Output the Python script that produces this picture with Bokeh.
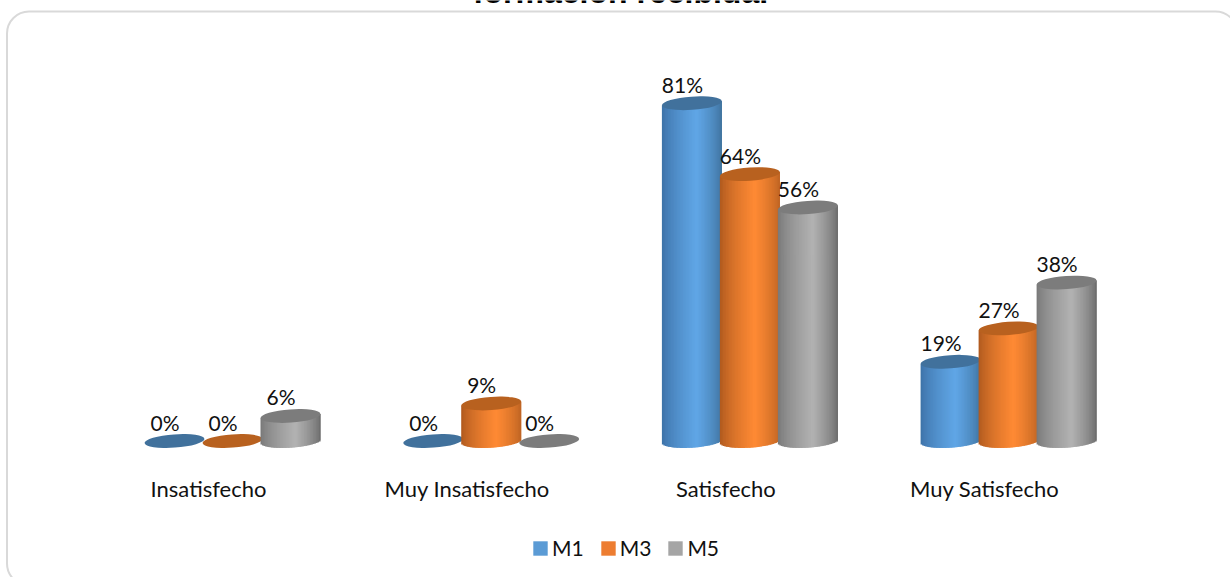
from math import sqrt, radians
from bokeh.plotting import figure
from bokeh.models import Range1d, BoxAnnotation, Legend, LegendItem
from bokeh.core.properties import value
from bokeh.embed import file_html
from bokeh.resources import INLINE

title_text = "formación recibida."
categories = ["Insatisfecho", "Muy Insatisfecho", "Satisfecho", "Muy Satisfecho"]
series_names = ["M1", "M3", "M5"]
m1 = [0, 0, 81, 19]
m3 = [0, 9, 64, 27]
m5 = [6, 0, 56, 38]
series = [m1, m3, m5]

legend_colors = ["#5B9BD5", "#ED7D31", "#A5A5A5"]
top_colors = ["#41719C", "#B8611F", "#7C7C7C"]
edge_l = [(60, 112, 165), (172, 88, 30), (118, 118, 118)]
peak = [(96, 166, 230), (255, 138, 52), (178, 178, 178)]
edge_r = [(62, 112, 155), (186, 98, 34), (104, 104, 104)]

W, H = 1230, 577
px_x = 258.7   # px per category
px_y = 4.17    # px per percent
x0_px, y0_px = 232, 440.5

p = figure(width=W, height=H, output_backend="svg", toolbar_location=None,
           x_range=Range1d(-x0_px / px_x, (W - x0_px) / px_x),
           y_range=Range1d(-(H - y0_px) / px_y, y0_px / px_y),
           min_border=0, outline_line_color=None,
           styles={"position": "absolute", "left": "0px", "top": "0px"})
p.axis.visible = False
p.grid.visible = False
p.background_fill_color = "white"

p.add_layout(BoxAnnotation(left=6.5, right=1237, top=H - 11, bottom=-8,
                           left_units="screen", right_units="screen",
                           top_units="screen", bottom_units="screen",
                           fill_color=None, line_color="#D9D9D9", line_alpha=1, line_width=2,
                           border_radius=22, level="underlay"))

bar_step = 58 / px_x
bar_w = 60 / px_x
tilt = 2.1 / px_y        # rise of the ellipse axis at the edge, data units
semi_h = 6.6 / px_y      # semi-minor axis, data units
n_strips = 40

def mix(a, b, t):
    return tuple(a[i] + (b[i] - a[i]) * t for i in range(3))

def shade(s, u):
    # u in 0..1 across the cylinder: dark edges, bright band at about 58 %
    k = 0.58
    if u < k:
        c = mix(edge_l[s], peak[s], (u / k) ** 0.7)
    else:
        c = mix(edge_r[s], peak[s], ((1 - u) / (1 - k)) ** 0.7)
    return "#%02x%02x%02x" % tuple(int(round(v)) for v in c)

for g in range(len(categories)):
    for s, vals in enumerate(series):
        v = vals[g]
        cx = g + (s - 1) * bar_step
        if v > 0:
            L, R, T, B, C = [], [], [], [], []
            dw = bar_w / n_strips
            for k in range(n_strips):
                u = (k + 0.5) / n_strips
                t = 2 * u - 1
                L.append(cx - bar_w / 2 + k * dw)
                R.append(cx - bar_w / 2 + min(k + 2, n_strips) * dw)
                T.append(v + tilt * t)
                B.append(tilt * t - semi_h * sqrt(max(0, 1 - t * t)))
                C.append(shade(s, u))
            p.quad(left=L, right=R, top=T, bottom=B, fill_color=C, line_color=None)
        p.ellipse(x=[cx], y=[v], width=bar_w, height=2 * semi_h, angle=radians(4),
                  fill_color=top_colors[s], line_color=None)

for g in range(len(categories)):
    for s, vals in enumerate(series):
        p.text(x=[g + (s - 1) * bar_step], y=[vals[g]], text=[f"{vals[g]}%"],
               x_offset=-9.5, y_offset=-19,
               text_align="center", text_baseline="middle",
               text_font=value("Lato"), text_font_size="21px", text_color="#111111")

p.text(x=[g - 24 / px_x for g in range(4)], y=[(y0_px - 488) / px_y] * 4, text=categories,
       text_align="center", text_baseline="middle",
       text_font=value("Lato"), text_font_size="22px", text_color="#111111")

p.text(x=[(620 - x0_px) / px_x], y=[(y0_px + 9) / px_y], text=[title_text],
       text_align="center", text_baseline="alphabetic",
       text_font=value("Liberation Sans"), text_font_style="bold",
       text_font_size="32px", text_color="black")

items = []
for name, col in zip(series_names, legend_colors):
    r = p.quad(left=[float("nan")], right=[float("nan")], top=[float("nan")], bottom=[float("nan")],
               fill_color=col, line_color=None)
    items.append(LegendItem(label=name, renderers=[r]))
leg = Legend(items=items, orientation="horizontal", location=(531, 17),
             padding=0, margin=0, spacing=15, label_standoff=3,
             glyph_width=18, glyph_height=18,
             border_line_color=None, background_fill_alpha=0,
             label_text_font="Lato", label_text_font_size="21px", label_text_color="#111111")
p.add_layout(leg)

open("out.html", "w").write(file_html(p, INLINE))
